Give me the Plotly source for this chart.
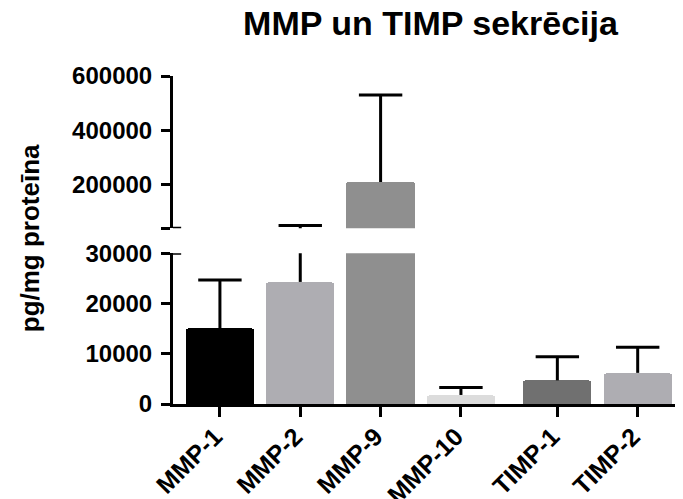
import plotly.graph_objects as go

categories = ["MMP-1", "MMP-2", "MMP-9", "MMP-10", "TIMP-1", "TIMP-2"]
x_positions = [0, 1, 2, 3, 4.2, 5.2]
means = [15100, 24300, 210000, 1800, 4700, 6200]
errors_plus = [9600, 25700, 320000, 1500, 4700, 5100]
bar_colors = ["#000000", "#AEADB2", "#8F8F8F", "#DCDCDC", "#707070", "#AEADB2"]

lower_ticks = [0, 10000, 20000, 30000]
lower_labels = ["0", "10000", "20000", "30000"]
upper_ticks = [40000, 200000, 400000, 600000]
upper_labels = ["", "200000", "400000", "600000"]

FONT = "Arial, Liberation Sans, sans-serif"
tops = [m + e for m, e in zip(means, errors_plus)]

fig = go.Figure()
for yax in ["y", "y2"]:
    fig.add_trace(go.Bar(
        x=x_positions, y=means, yaxis=yax, width=0.85,
        marker=dict(color=bar_colors, line=dict(width=0), cornerradius=3),
        showlegend=False, cliponaxis=True,
    ))
    fig.add_trace(go.Scatter(
        x=x_positions, y=tops, yaxis=yax, mode="markers",
        marker=dict(symbol="line-ew", size=31, color="black",
                    line=dict(color="black", width=3)),
        error_y=dict(type="data", symmetric=False, array=[0] * len(means),
                     arrayminus=errors_plus, color="black", thickness=3, width=0),
        showlegend=False, cliponaxis=True, hoverinfo="skip",
    ))

tickfont = dict(family=FONT, size=24, color="black", weight="bold")
axis_common = dict(showline=True, linewidth=3, linecolor="black", ticks="outside",
                   ticklen=9, tickwidth=3, tickcolor="black", showgrid=False,
                   zeroline=False, tickfont=tickfont, ticklabelstandoff=4,
                   automargin=False)

fig.update_layout(
    width=683, height=499,
    margin=dict(l=165, r=8, t=68, b=103, autoexpand=False),
    plot_bgcolor="white", paper_bgcolor="white",
    bargap=0,
    title=dict(text="<b>MMP un TIMP sekrēcija</b>", x=0.6186, xref="container", xanchor="center",
               y=0.970, yref="container", yanchor="middle",
               font=dict(family=FONT, size=34, color="black")),
    xaxis=dict(range=[-0.584, 5.764], tickvals=x_positions, ticktext=categories,
               tickangle=-45, showline=True, linewidth=3, linecolor="black",
               ticks="outside", ticklen=10, tickwidth=3, tickcolor="black",
               showgrid=False, zeroline=False, automargin=False,
               ticklabelstandoff=-5, ticklabelshift=-5,
               tickfont=dict(family=FONT, size=25, color="black", weight="bold")),
    yaxis=dict(domain=[0, 0.4595], range=[0, 30000], tickvals=lower_ticks,
               ticktext=lower_labels, **axis_common),
    yaxis2=dict(domain=[0.5357, 1], range=[40000, 600000], tickvals=upper_ticks,
                ticktext=upper_labels, **axis_common),
    annotations=[dict(text="<b>pg/mg proteīna</b>", textangle=-90, xref="paper", yref="paper",
                      x=-0.28, y=0.506, xanchor="center", yanchor="middle", showarrow=False,
                      font=dict(family=FONT, size=26, color="black"))],
    shapes=[
        dict(type="line", xref="x domain", yref="y", x0=0, x1=0.016, y0=30000, y1=30000,
             line=dict(color="black", width=3)),
        dict(type="line", xref="x domain", yref="y2", x0=0, x1=0.016, y0=40000, y1=40000,
             line=dict(color="black", width=3)),
    ],
)

fig.write_html("out.html")
